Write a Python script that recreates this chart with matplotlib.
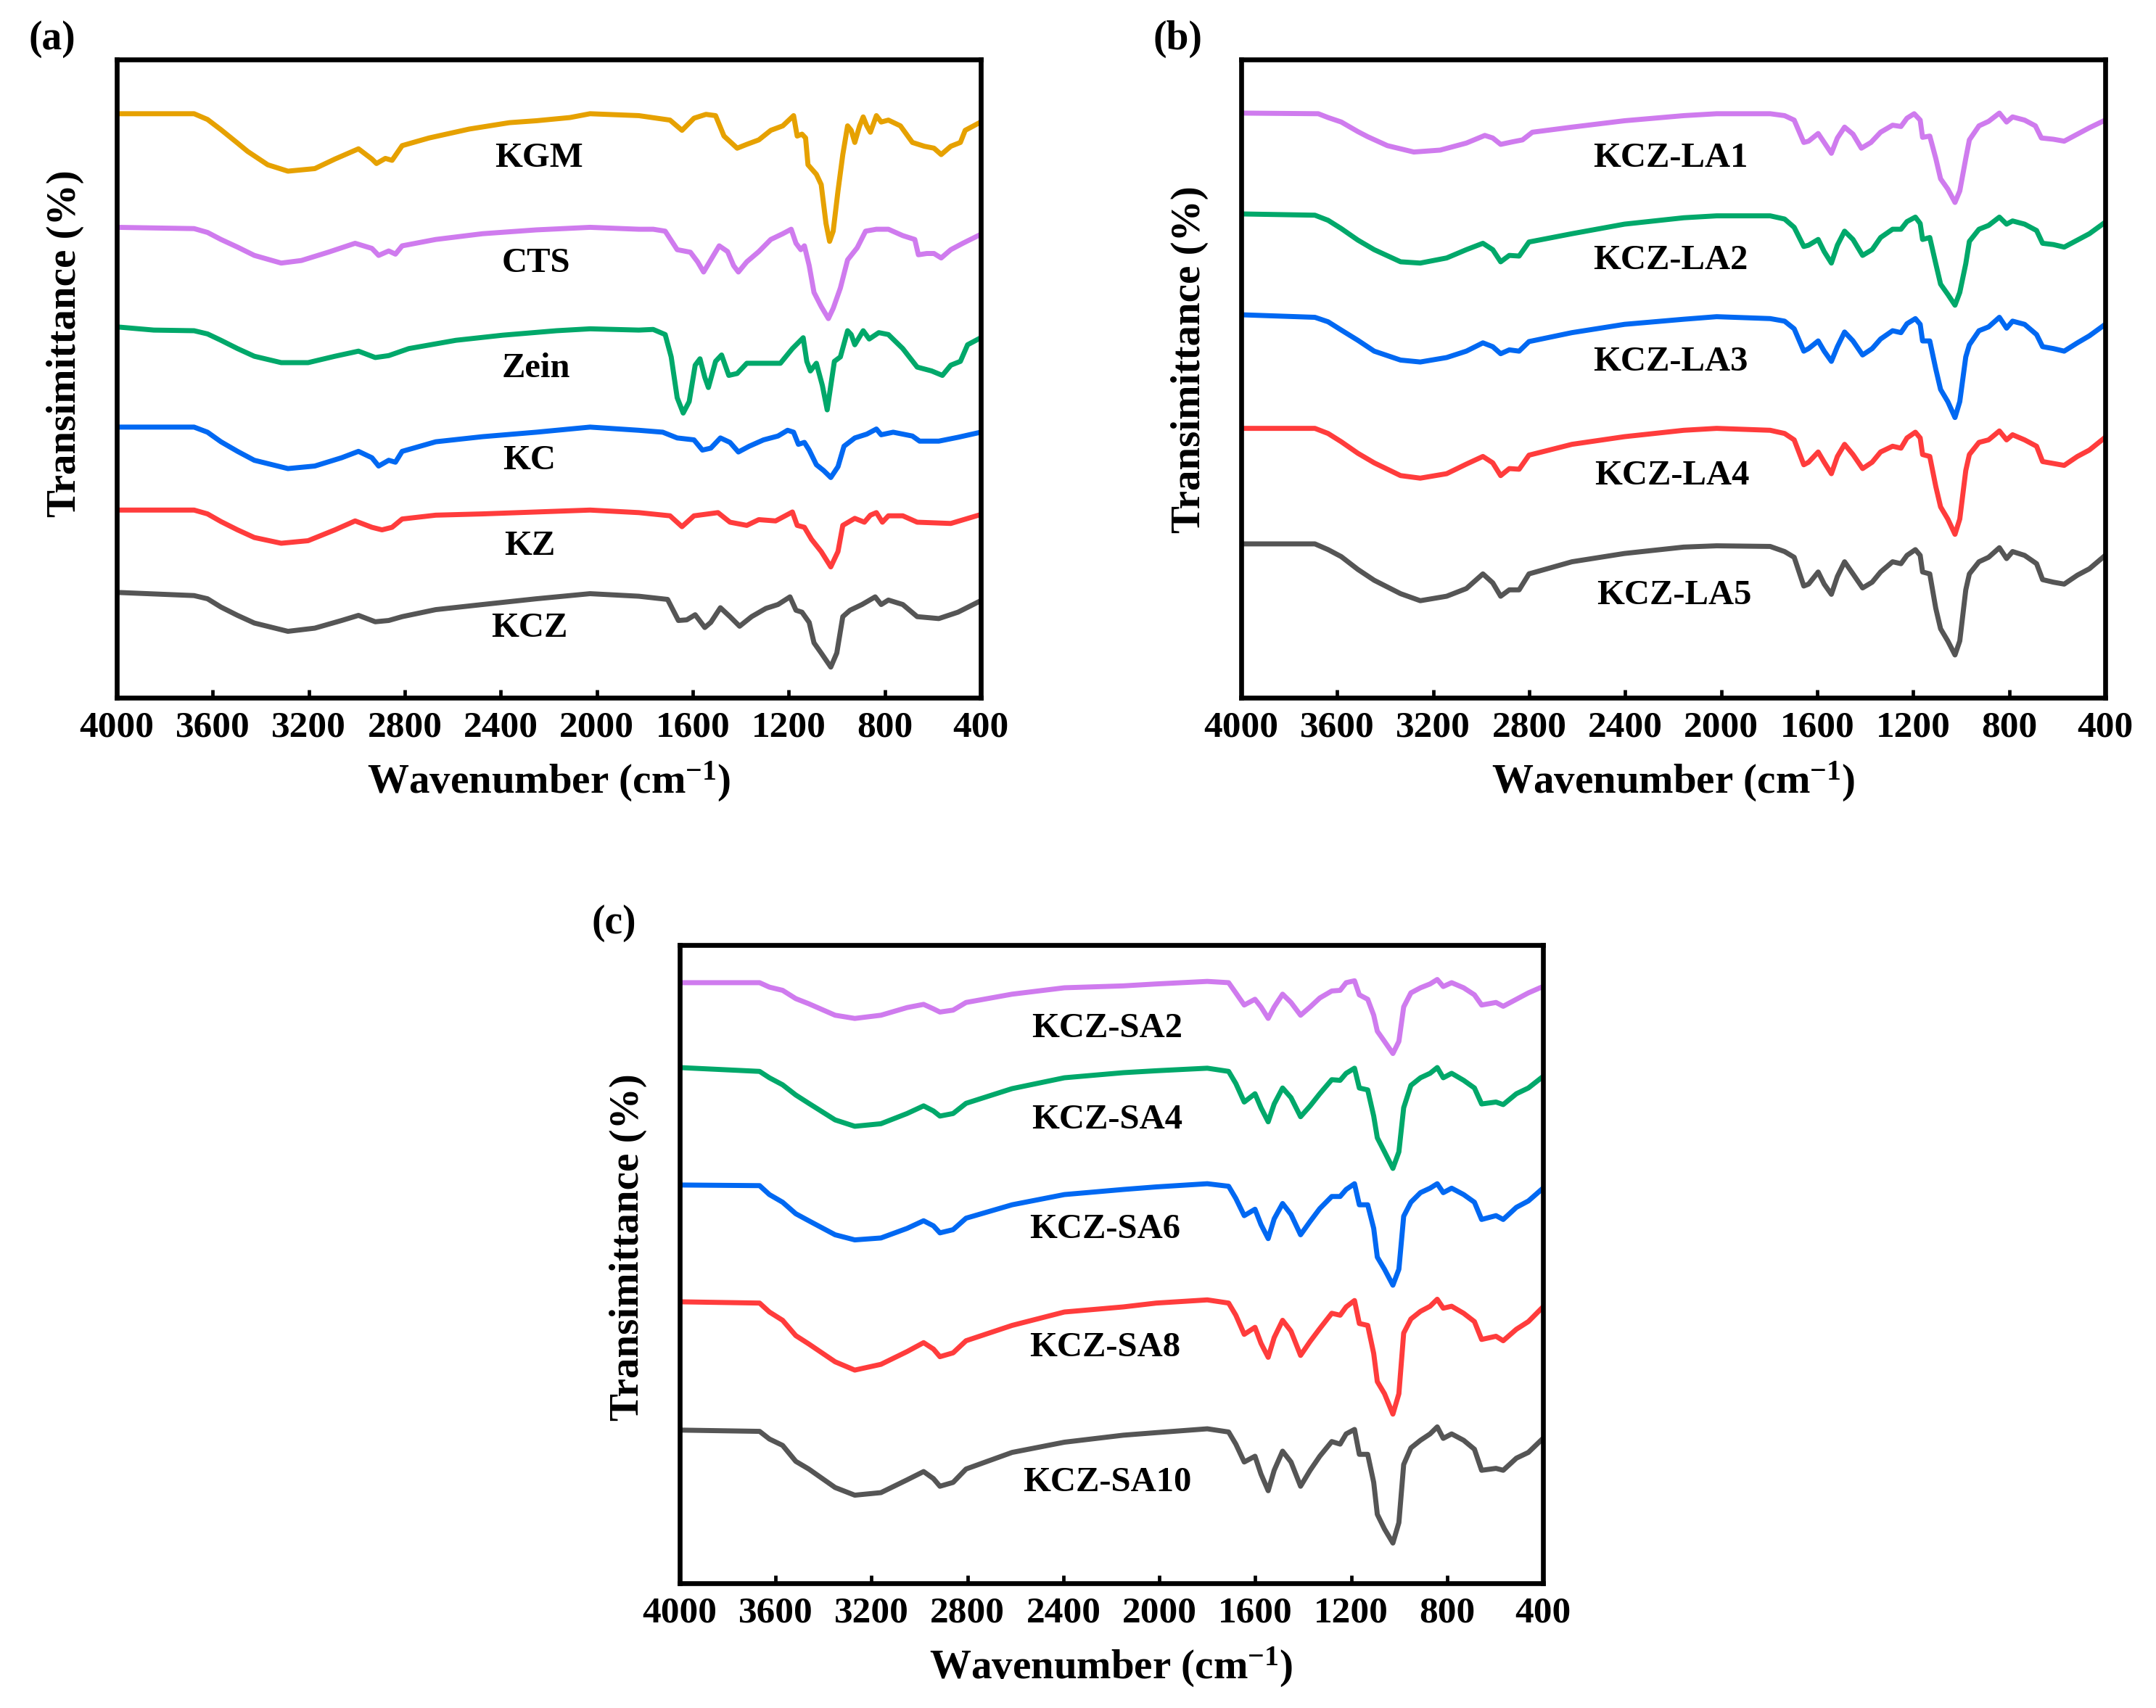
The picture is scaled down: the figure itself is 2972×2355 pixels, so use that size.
import numpy as np
import matplotlib
matplotlib.use('Agg')
import matplotlib.pyplot as plt

plt.rcParams['font.family'] = ['Liberation Serif', 'DejaVu Serif']
plt.rcParams['font.weight'] = 'bold'
plt.rcParams['mathtext.fontset'] = 'custom'
plt.rcParams['mathtext.rm'] = 'Liberation Serif:bold'
plt.rcParams['mathtext.bf'] = 'Liberation Serif:bold'
plt.rcParams['mathtext.default'] = 'bf'

# FTIR spectra: (wavenumber cm-1, stacked transmittance a.u.)
# panel (a)
KGM = [(4000, 91.5), (3678, 91.5), (3622, 90.6), (3566, 89.0), (3497, 86.9), (3455, 85.6), (3371, 83.5),
       (3287, 82.5), (3175, 82.9),
       (3091, 84.4), (2993, 86.0), (2937, 84.4), (2918, 83.7), (2881, 84.5), (2853, 84.2), (2811, 86.5),
       (2699, 87.7), (2531, 89.1), (2364, 90.1), (2252, 90.4), (2112, 90.9), (2028, 91.5), (1825, 91.2),
       (1695, 90.5), (1645, 88.9), (1595, 90.8), (1545, 91.4), (1505, 91.2), (1470, 88.0), (1415, 86.1),
       (1375, 86.7), (1325, 87.4), (1275, 88.9), (1225, 89.6), (1180, 91.2), (1165, 88.0), (1145, 88.3),
       (1130, 87.7), (1120, 83.5), (1085, 82.0), (1065, 80.4), (1045, 74.3), (1030, 71.5), (1015, 73.1),
       (995, 79.4), (975, 85.1), (955, 89.6), (940, 88.9), (925, 87.0), (905, 89.6), (890, 91.0),
       (875, 89.6), (860, 88.6), (835, 91.2), (815, 90.2), (785, 90.5), (735, 89.6), (685, 87.0),
       (635, 86.4), (595, 86.1), (565, 85.1), (525, 86.4), (485, 87.0), (465, 88.9), (400, 90.2)]
CTS = [(4000, 73.7), (3678, 73.5), (3622, 72.9), (3566, 71.8), (3497, 70.6), (3427, 69.3), (3315, 68.1),
       (3231, 68.5), (3119, 69.8),
       (3007, 71.2), (2937, 70.4), (2909, 69.3), (2867, 70.0), (2839, 69.5), (2811, 70.8), (2671, 71.8),
       (2476, 72.7), (2252, 73.3), (2028, 73.7), (1825, 73.4), (1765, 73.4), (1715, 73.1), (1665, 70.2),
       (1610, 69.8), (1580, 68.3), (1555, 66.7), (1525, 68.6), (1490, 70.8), (1455, 69.9), (1430, 67.7),
       (1410, 66.7), (1375, 68.3), (1325, 69.9), (1275, 71.8), (1225, 72.7), (1190, 73.4), (1170, 71.2),
       (1150, 70.2), (1135, 70.8), (1115, 67.7), (1095, 63.5), (1065, 61.3), (1035, 59.4), (1015, 61.0),
       (985, 64.2), (955, 68.6), (915, 70.5), (880, 73.1), (835, 73.4), (785, 73.4), (725, 72.4),
       (675, 71.8), (660, 69.4), (625, 69.6), (595, 69.6), (565, 68.9), (525, 70.2), (475, 71.2), (400, 72.6)]
ZEIN = [(4000, 58.1), (3846, 57.6), (3678, 57.5), (3622, 57.0), (3566, 56.0), (3497, 54.7), (3427, 53.5),
        (3315, 52.5), (3203, 52.5),
        (3091, 53.5), (2993, 54.3), (2923, 53.3), (2867, 53.6), (2783, 54.7), (2587, 56.0), (2392, 56.8),
        (2168, 57.5), (2028, 57.8), (1825, 57.6), (1765, 57.7), (1715, 56.9), (1690, 53.4), (1665, 47.0),
        (1640, 44.6), (1615, 46.4), (1590, 52.1), (1570, 53.1), (1550, 50.2), (1535, 48.6), (1505, 52.7),
        (1480, 53.7), (1450, 50.5), (1415, 50.8), (1375, 52.4), (1305, 52.4), (1235, 52.4), (1185, 54.7),
        (1140, 56.4), (1125, 52.7), (1110, 51.2), (1085, 52.4), (1060, 48.9), (1040, 45.1), (1025, 48.9),
        (1010, 52.7), (985, 53.4), (955, 57.5), (940, 56.9), (925, 55.3), (890, 57.5), (865, 56.2),
        (825, 57.2), (785, 56.9), (725, 54.7), (665, 51.8), (605, 51.2), (560, 50.5), (525, 52.1),
        (485, 52.7), (455, 55.3), (400, 56.4)]
KC = [(4000, 42.4), (3678, 42.4), (3622, 41.6), (3566, 40.1), (3497, 38.6), (3427, 37.2), (3287, 35.9),
      (3175, 36.3), (3063, 37.6),
      (2993, 38.6), (2937, 37.6), (2909, 36.3), (2867, 37.2), (2839, 36.9), (2811, 38.6), (2671, 40.1),
      (2476, 40.9), (2252, 41.6), (2028, 42.4), (1825, 41.9), (1725, 41.6), (1665, 40.7), (1595, 40.4),
      (1560, 38.8), (1525, 39.1), (1485, 40.7), (1445, 40.0), (1410, 38.5), (1365, 39.4), (1305, 40.4),
      (1245, 41.0), (1205, 41.9), (1180, 41.6), (1160, 39.7), (1135, 40.0), (1115, 38.8), (1085, 36.5),
      (1055, 35.6), (1025, 34.5), (995, 36.2), (970, 39.4), (925, 40.7), (875, 41.3), (835, 42.1),
      (815, 41.2), (765, 41.6), (685, 41.0), (655, 40.2), (575, 40.2), (495, 40.8), (400, 41.6)]
KZ = [(4000, 29.4), (3678, 29.4), (3622, 28.8), (3566, 27.6), (3497, 26.3), (3427, 25.1), (3315, 24.2),
      (3203, 24.6), (3091, 26.3),
      (3007, 27.7), (2937, 26.7), (2895, 26.3), (2853, 26.7), (2811, 28.0), (2671, 28.6), (2476, 28.8),
      (2252, 29.1), (2028, 29.4), (1825, 29.0), (1695, 28.5), (1645, 26.8), (1595, 28.5), (1495, 29.0),
      (1445, 27.5), (1375, 27.0), (1325, 27.9), (1255, 27.7), (1225, 28.3), (1185, 29.1), (1165, 27.0),
      (1135, 26.7), (1105, 24.8), (1065, 22.9), (1025, 20.5), (995, 22.9), (975, 27.0), (925, 28.1),
      (885, 27.5), (860, 28.6), (835, 29.0), (810, 27.5), (785, 28.5), (725, 28.5), (665, 27.5),
      (525, 27.3), (400, 28.7)]
KCZ = [(4000, 16.5), (3678, 16.0), (3622, 15.5), (3566, 14.2), (3497, 12.9), (3427, 11.7), (3287, 10.4),
       (3175, 10.9), (3063, 12.1),
       (2993, 12.9), (2923, 11.9), (2867, 12.1), (2811, 12.7), (2671, 13.8), (2476, 14.6), (2252, 15.5),
       (2028, 16.3), (1825, 15.9), (1705, 15.4), (1660, 12.1), (1625, 12.2), (1590, 13.0), (1550, 11.0),
       (1525, 11.8), (1485, 14.1), (1445, 12.7), (1405, 11.2), (1355, 12.7), (1295, 14.0), (1245, 14.6),
       (1195, 15.8), (1170, 13.7), (1145, 13.4), (1115, 11.8), (1095, 8.6), (1065, 7.0), (1025, 4.8),
       (1000, 7.0), (975, 12.7), (945, 13.7), (895, 14.6), (840, 15.8), (815, 14.6), (785, 15.3),
       (725, 14.6), (665, 12.7), (575, 12.4), (495, 13.4), (400, 15.2)]

# panel (b)
LA1 = [(4000, 91.6), (3679, 91.5), (3638, 90.9), (3583, 90.2), (3514, 88.7), (3473, 87.9), (3391, 86.5),
       (3281, 85.5), (3171, 85.8),
       (3062, 86.9), (2985, 88.1), (2952, 87.7), (2919, 86.7), (2869, 87.1), (2828, 87.4), (2787, 88.6),
       (2622, 89.4), (2403, 90.4), (2156, 91.2), (2019, 91.5), (1796, 91.5), (1736, 91.2), (1696, 90.5),
       (1656, 87.0), (1636, 87.2), (1596, 88.4), (1571, 87.0), (1541, 85.3), (1516, 87.7), (1486, 89.4),
       (1451, 88.3), (1416, 86.1), (1376, 87.0), (1336, 88.6), (1286, 89.7), (1251, 89.5), (1226, 90.8),
       (1196, 91.5), (1171, 90.5), (1161, 87.8), (1131, 88.0), (1106, 84.5), (1086, 81.3), (1056, 79.7),
       (1026, 77.6), (1006, 79.4), (981, 84.5), (966, 87.4), (926, 89.6), (886, 90.3), (841, 91.6),
       (811, 90.2), (786, 91.0), (736, 90.5), (691, 89.6), (666, 87.7), (616, 87.5), (571, 87.2),
       (516, 88.3), (466, 89.3), (400, 90.5)]
LA2 = [(4000, 75.8), (3693, 75.6), (3638, 74.8), (3583, 73.5), (3514, 71.7), (3446, 70.2), (3336, 68.3),
       (3254, 68.1), (3144, 68.9),
       (3062, 70.2), (2993, 71.2), (2952, 70.2), (2919, 68.3), (2883, 69.3), (2842, 69.2), (2801, 71.4),
       (2622, 72.7), (2403, 74.2), (2156, 75.2), (2019, 75.5), (1796, 75.5), (1736, 75.0), (1696, 73.7),
       (1656, 70.7), (1636, 70.9), (1596, 71.8), (1571, 69.9), (1541, 68.1), (1516, 70.9), (1486, 73.1),
       (1451, 71.8), (1411, 69.3), (1371, 70.2), (1336, 72.1), (1286, 73.4), (1251, 73.4), (1226, 74.6),
       (1191, 75.3), (1171, 74.3), (1161, 71.8), (1131, 72.1), (1106, 68.0), (1086, 64.8), (1056, 63.2),
       (1026, 61.5), (1006, 63.5), (981, 68.0), (966, 71.5), (926, 73.4), (886, 74.0), (841, 75.3),
       (811, 74.2), (786, 74.7), (736, 74.2), (686, 73.2), (661, 71.2), (616, 71.0), (571, 70.6),
       (516, 71.7), (466, 72.7), (400, 74.5)]
LA3 = [(4000, 60.0), (3693, 59.6), (3638, 58.9), (3583, 57.6), (3514, 56.0), (3446, 54.3), (3336, 52.9),
       (3254, 52.6), (3144, 53.3),
       (3062, 54.3), (2993, 55.6), (2952, 55.0), (2919, 53.9), (2883, 54.5), (2842, 54.3), (2801, 55.8),
       (2622, 57.2), (2403, 58.5), (2156, 59.3), (2019, 59.7), (1796, 59.4), (1736, 59.0), (1696, 57.8),
       (1656, 54.3), (1636, 54.7), (1596, 55.9), (1571, 54.3), (1541, 52.7), (1516, 55.0), (1486, 57.3),
       (1451, 55.9), (1411, 53.7), (1371, 54.7), (1336, 56.2), (1286, 57.5), (1251, 57.2), (1226, 58.6),
       (1191, 59.4), (1171, 58.5), (1161, 55.9), (1131, 55.9), (1106, 51.5), (1086, 48.3), (1056, 46.4),
       (1026, 43.9), (1006, 46.4), (981, 53.4), (966, 55.3), (926, 57.5), (886, 58.1), (841, 59.6),
       (811, 57.9), (786, 59.0), (736, 58.5), (686, 56.9), (661, 55.0), (616, 54.7), (571, 54.3),
       (516, 55.6), (466, 56.7), (400, 58.5)]
LA4 = [(4000, 42.2), (3693, 42.2), (3638, 41.4), (3583, 40.1), (3514, 38.3), (3446, 36.8), (3336, 34.8),
       (3254, 34.4), (3144, 35.1),
       (3062, 36.6), (2993, 37.8), (2952, 36.8), (2919, 34.8), (2883, 35.9), (2842, 35.8), (2801, 38.0),
       (2622, 39.7), (2403, 40.9), (2156, 41.9), (2019, 42.2), (1796, 41.9), (1736, 41.4), (1696, 40.4),
       (1656, 36.5), (1636, 36.9), (1596, 38.5), (1571, 36.9), (1541, 35.1), (1516, 37.8), (1486, 39.7),
       (1451, 38.1), (1411, 35.9), (1371, 36.9), (1336, 38.5), (1286, 39.4), (1251, 39.1), (1226, 40.7),
       (1191, 41.6), (1171, 40.7), (1161, 38.1), (1131, 37.8), (1106, 33.1), (1086, 29.9), (1056, 28.0),
       (1026, 25.6), (1006, 28.0), (981, 35.6), (966, 38.1), (926, 40.0), (886, 40.4), (841, 41.8),
       (811, 40.4), (786, 41.2), (736, 40.4), (686, 39.4), (661, 37.0), (616, 36.7), (571, 36.4),
       (516, 37.8), (466, 38.8), (400, 40.8)]
LA5 = [(4000, 24.1), (3693, 24.1), (3638, 23.2), (3583, 22.1), (3514, 20.1), (3446, 18.4), (3336, 16.3),
       (3254, 15.2), (3144, 15.9),
       (3062, 17.1), (2993, 19.4), (2952, 18.0), (2919, 15.9), (2883, 16.9), (2842, 16.9), (2801, 19.4),
       (2622, 21.3), (2403, 22.6), (2156, 23.6), (2019, 23.8), (1796, 23.7), (1736, 22.9), (1696, 22.0),
       (1656, 17.5), (1636, 17.8), (1596, 19.7), (1571, 17.8), (1541, 16.2), (1516, 19.0), (1486, 21.3),
       (1451, 19.4), (1411, 17.2), (1371, 18.1), (1336, 19.7), (1286, 21.3), (1251, 21.0), (1226, 22.3),
       (1191, 23.2), (1171, 22.3), (1161, 19.7), (1131, 19.4), (1106, 14.0), (1086, 10.8), (1056, 8.9),
       (1026, 6.7), (1006, 8.9), (981, 16.9), (966, 19.4), (926, 21.3), (886, 22.0), (841, 23.5),
       (811, 21.8), (786, 22.9), (736, 22.3), (686, 21.0), (661, 18.5), (616, 18.1), (571, 17.8),
       (516, 19.2), (466, 20.2), (400, 22.3)]

# panel (c)
SA2 = [(4000, 94.1), (3667, 94.1), (3626, 93.4), (3571, 92.9), (3516, 91.6), (3462, 90.8), (3352, 89.0),
       (3270, 88.5), (3161, 89.0),
       (3052, 90.2), (2983, 90.7), (2942, 90.0), (2915, 89.5), (2860, 89.8), (2806, 91.0), (2614, 92.3),
       (2396, 93.3), (2150, 93.6), (2013, 93.9), (1800, 94.3), (1711, 94.1), (1681, 92.5), (1646, 90.6),
       (1601, 91.5), (1576, 90.3), (1546, 88.5), (1521, 90.3), (1486, 92.3), (1451, 91.0), (1411, 89.0),
       (1371, 90.3), (1331, 91.7), (1281, 92.8), (1246, 92.9), (1221, 94.1), (1186, 94.4), (1166, 92.2),
       (1131, 91.5), (1106, 89.0), (1091, 86.5), (1061, 84.9), (1026, 83.0), (1001, 84.9), (981, 90.3),
       (951, 92.5), (911, 93.3), (871, 93.9), (841, 94.6), (816, 93.5), (781, 94.1), (731, 93.3),
       (686, 92.2), (656, 90.6), (596, 91.0), (566, 90.4), (511, 91.5), (461, 92.5), (400, 93.5)]
SA4 = [(4000, 80.8), (3667, 80.2), (3626, 79.2), (3571, 78.1), (3516, 76.5), (3462, 75.2), (3352, 72.6),
       (3270, 71.6), (3161, 72.0),
       (3052, 73.6), (2983, 74.8), (2942, 74.0), (2915, 73.2), (2860, 73.6), (2806, 75.2), (2614, 77.5),
       (2396, 79.2), (2150, 80.0), (2013, 80.3), (1800, 80.7), (1711, 80.2), (1681, 78.3), (1646, 75.4),
       (1601, 76.7), (1576, 74.5), (1546, 72.3), (1521, 75.1), (1486, 77.6), (1451, 76.1), (1411, 73.1),
       (1371, 74.8), (1331, 76.7), (1281, 78.9), (1246, 78.8), (1221, 79.9), (1186, 80.7), (1166, 77.6),
       (1131, 77.3), (1106, 73.2), (1091, 69.8), (1061, 67.6), (1026, 65.0), (1001, 67.6), (981, 74.5),
       (951, 78.0), (911, 79.2), (871, 79.9), (841, 80.8), (816, 79.2), (781, 79.9), (731, 78.8),
       (686, 77.6), (656, 75.1), (596, 75.4), (566, 75.0), (511, 76.7), (461, 77.6), (400, 79.4)]
SA6 = [(4000, 62.4), (3667, 62.3), (3626, 60.9), (3571, 59.7), (3516, 57.9), (3462, 56.8), (3352, 54.6),
       (3270, 53.8), (3161, 54.1),
       (3052, 55.6), (2983, 56.8), (2942, 56.0), (2915, 54.9), (2860, 55.4), (2806, 57.2), (2614, 59.3),
       (2396, 60.9), (2150, 61.7), (2013, 62.1), (1800, 62.6), (1711, 62.2), (1681, 60.3), (1646, 57.6),
       (1601, 58.6), (1576, 56.2), (1546, 54.0), (1521, 57.1), (1486, 59.5), (1451, 57.8), (1411, 54.6),
       (1371, 56.7), (1331, 58.7), (1281, 60.6), (1246, 60.6), (1221, 61.7), (1186, 62.6), (1166, 59.3),
       (1131, 59.3), (1106, 55.6), (1091, 51.1), (1061, 49.2), (1026, 46.7), (1001, 49.2), (981, 57.5),
       (951, 59.7), (911, 61.2), (871, 61.9), (841, 62.6), (816, 61.2), (781, 61.9), (731, 60.9),
       (686, 59.7), (656, 57.0), (596, 57.6), (566, 57.0), (511, 58.9), (461, 59.9), (400, 61.9)]
SA8 = [(4000, 44.1), (3667, 43.9), (3626, 42.5), (3571, 41.2), (3516, 38.8), (3462, 37.5), (3352, 34.7),
       (3270, 33.4), (3161, 34.3),
       (3052, 36.3), (2983, 37.7), (2942, 36.7), (2915, 35.5), (2860, 36.1), (2806, 38.0), (2614, 40.4),
       (2396, 42.5), (2150, 43.3), (2013, 43.9), (1800, 44.4), (1711, 43.9), (1681, 42.0), (1646, 39.0),
       (1601, 40.1), (1576, 37.6), (1546, 35.4), (1521, 38.5), (1486, 41.2), (1451, 39.5), (1411, 35.7),
       (1371, 37.9), (1331, 39.9), (1281, 42.3), (1246, 42.0), (1221, 43.3), (1186, 44.3), (1166, 40.7),
       (1131, 40.4), (1106, 36.0), (1091, 31.6), (1061, 29.7), (1026, 26.5), (1001, 29.7), (981, 39.2),
       (951, 41.4), (911, 42.6), (871, 43.4), (841, 44.5), (816, 43.1), (781, 43.4), (731, 42.3),
       (686, 41.0), (656, 38.2), (596, 38.7), (566, 38.0), (511, 39.8), (461, 41.0), (400, 43.3)]
SA10 = [(4000, 24.0), (3667, 23.8), (3626, 22.6), (3571, 21.6), (3516, 19.1), (3462, 17.9), (3352, 15.0),
        (3270, 13.8), (3161, 14.2),
        (3052, 16.2), (2983, 17.5), (2942, 16.4), (2915, 15.2), (2860, 15.8), (2806, 17.9), (2614, 20.5),
        (2396, 22.1), (2150, 23.2), (2013, 23.6), (1800, 24.2), (1711, 23.7), (1681, 21.8), (1646, 19.0),
        (1601, 19.9), (1576, 17.1), (1546, 14.5), (1521, 17.7), (1486, 20.7), (1451, 19.0), (1411, 15.2),
        (1371, 17.7), (1331, 19.9), (1281, 22.2), (1246, 21.8), (1221, 23.4), (1186, 24.1), (1166, 20.2),
        (1131, 20.2), (1106, 15.8), (1091, 10.8), (1061, 8.5), (1026, 6.3), (1001, 9.5), (981, 18.6),
        (951, 21.2), (911, 22.4), (871, 23.4), (841, 24.5), (816, 22.7), (781, 23.4), (731, 22.4),
        (686, 21.0), (656, 17.7), (596, 18.0), (566, 17.7), (511, 19.6), (461, 20.5), (400, 22.7)]

COLORS = ['#E6A100', '#CF7BEE', '#00A86A', '#0068F2', '#FF3C3C', '#555555']

# name, spectrum, colour, label position (wavenumber, a.u.)
panel_a = [('KGM', KGM, COLORS[0], (2240, 84.5)), ('CTS', CTS, COLORS[1], (2252, 68.1)),
           ('Zein', ZEIN, COLORS[2], (2252, 51.6)), ('KC', KC, COLORS[3], (2280, 37.2)),
           ('KZ', KZ, COLORS[4], (2280, 23.8)), ('KCZ', KCZ, COLORS[5], (2280, 10.9))]
panel_b = [('KCZ-LA1', LA1, COLORS[1], (2211, 84.5)), ('KCZ-LA2', LA2, COLORS[2], (2211, 68.5)),
           ('KCZ-LA3', LA3, COLORS[3], (2211, 52.6)), ('KCZ-LA4', LA4, COLORS[4], (2205, 34.8)),
           ('KCZ-LA5', LA5, COLORS[5], (2197, 16.0))]
panel_c = [('KCZ-SA2', SA2, COLORS[1], (2218, 86.9)), ('KCZ-SA4', SA4, COLORS[2], (2218, 72.6)),
           ('KCZ-SA6', SA6, COLORS[3], (2226, 55.4)), ('KCZ-SA8', SA8, COLORS[4], (2226, 36.9)),
           ('KCZ-SA10', SA10, COLORS[5], (2218, 15.8))]

W, H = 2972, 2355
fig = plt.figure(figsize=(W / 100, H / 100), dpi=100)


def draw(rect, curves, letter, letter_xy, ylab_y):
    ax = fig.add_axes(rect)
    for name, spec, col, (lx, ly) in curves:
        arr = np.array(sorted(spec, reverse=True)).T
        ax.plot(arr[0], arr[1], color=col, lw=5, solid_joinstyle='round', solid_capstyle='round')
        ax.text(lx, ly, name, ha='center', va='center', fontsize=35, fontweight='bold')
    ax.set_xlim(4000, 400)
    ax.set_ylim(0, 100)
    ax.set_xticks(np.arange(4000, 399, -400))
    ax.set_yticks([])
    ax.tick_params(axis='x', direction='in', length=8, width=3.4, labelsize=37, pad=13)
    for lab in ax.get_xticklabels():
        lab.set_fontweight('bold')
    for s in ax.spines.values():
        s.set_linewidth(4.8)
    ax.set_xlabel('Wavenumber (cm$^{-1}$)', fontsize=41, fontweight='bold')
    ax.xaxis.set_label_coords(0.5, -0.097)
    ax.set_ylabel('Transimittance (%)', fontsize=41, fontweight='bold')
    ax.yaxis.set_label_coords(-0.038, ylab_y)
    fig.text(letter_xy[0] / W, 1 - letter_xy[1] / H, letter, ha='left', va='top',
             fontsize=40, fontweight='bold')
    return ax


draw([161 / W, 1 - 962 / H, 1191 / W, 880 / H], panel_a, '(a)', (40, 28), 0.555)
draw([1711 / W, 1 - 962 / H, 1191 / W, 880 / H], panel_b, '(b)', (1590, 28), 0.53)
draw([937 / W, 1 - 2183 / H, 1190 / W, 880 / H], panel_c, '(c)', (815, 1247), 0.527)

fig.savefig('out.png', dpi=100)
